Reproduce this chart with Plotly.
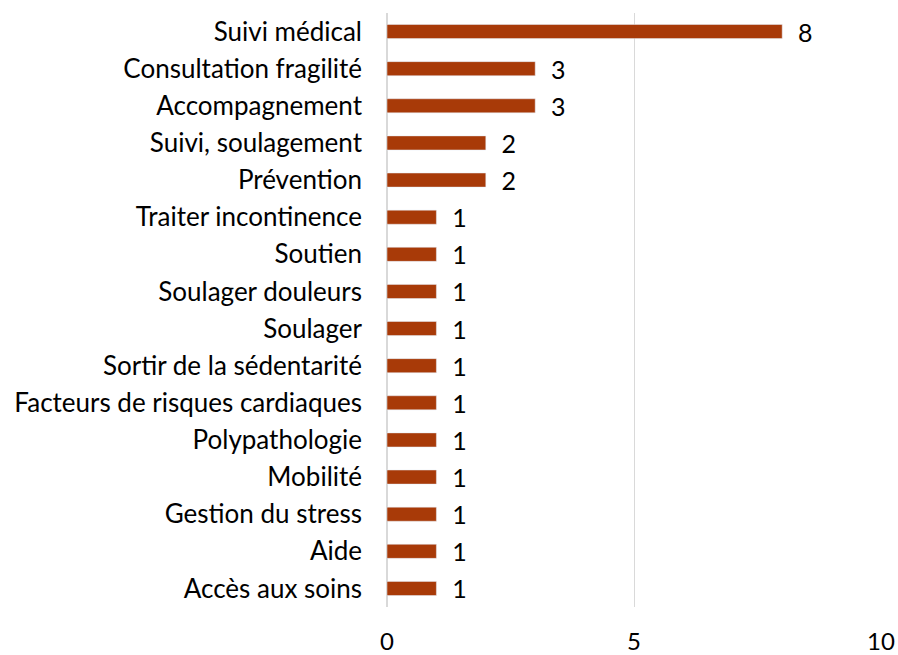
import plotly.graph_objects as go

categories = ["Suivi médical", "Consultation fragilité", "Accompagnement", "Suivi, soulagement",
              "Prévention", "Traiter incontinence", "Soutien", "Soulager douleurs", "Soulager",
              "Sortir de la sédentarité", "Facteurs de risques cardiaques", "Polypathologie",
              "Mobilité", "Gestion du stress", "Aide", "Accès aux soins"]
values = [8, 3, 3, 2, 2, 1, 1, 1, 1, 1, 1, 1, 1, 1, 1, 1]
x_ticks = [0, 5, 10]

FONT = "Lato, Carlito, Calibri, sans-serif"
FS = 26

fig = go.Figure(go.Bar(
    x=values, y=categories, orientation="h",
    marker=dict(color="#A83A08"),
    text=[f"  {v}" for v in values], textposition="outside",
    textfont=dict(family=FONT, size=FS - 1, color="#000000"),
    constraintext="none",
    cliponaxis=False, width=0.38,
))

fig.update_layout(
    width=898, height=655,
    margin=dict(l=387, r=17, t=13, b=48),
    plot_bgcolor="white", paper_bgcolor="white",
    showlegend=False,
    font=dict(family=FONT, size=FS, color="#000000"),
    xaxis=dict(range=[0, 10], tickvals=x_ticks, showgrid=True, gridcolor="#D9D9D9",
               gridwidth=1, zeroline=True, zerolinecolor="#D9D9D9", showline=False,
               ticklabelstandoff=18, tickfont=dict(size=FS - 2), automargin=False),
    yaxis=dict(autorange="reversed", showgrid=False, showline=False,
               ticklabelstandoff=24, tickfont=dict(size=FS), automargin=False),
)

fig.write_html("out.html", config={"displayModeBar": False},
               post_script="document.body.style.margin='0';document.body.style.overflow='hidden';")
